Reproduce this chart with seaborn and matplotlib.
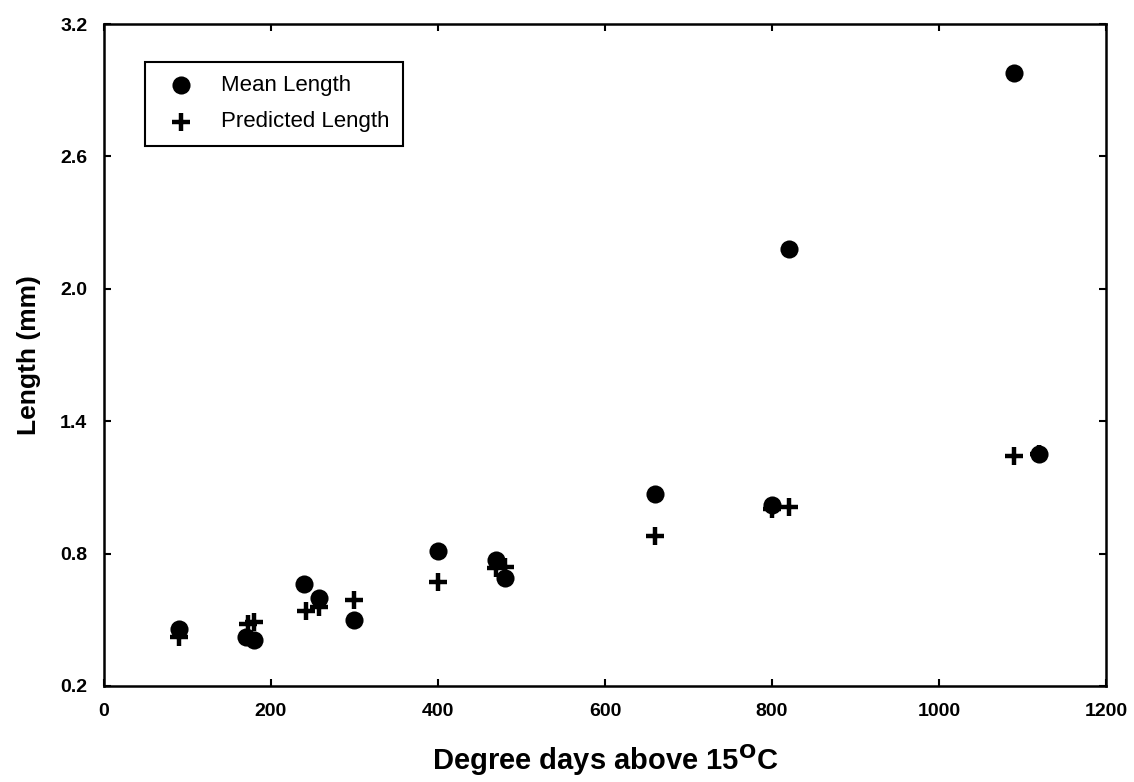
import seaborn as sns
import pandas as pd
import numpy as np
import matplotlib.pyplot as plt

# data
mean_dd = [90, 170, 180, 240, 258, 300, 400, 470, 480, 660, 800, 820, 1090, 1120]
mean_len = [0.46, 0.42, 0.41, 0.66, 0.60, 0.50, 0.81, 0.77, 0.69, 1.07, 1.02, 2.18, 2.98, 1.25]
pred_dd = [90, 173, 180, 242, 258, 300, 400, 470, 480, 660, 800, 820, 1090, 1120]
pred_len = [0.42, 0.48, 0.49, 0.54, 0.56, 0.59, 0.67, 0.735, 0.74, 0.88, 1.00, 1.01, 1.24, 1.25]

sns.set_style('ticks')
plt.rcParams['font.family'] = ['Liberation Sans', 'DejaVu Sans']
plt.rcParams['text.color'] = 'black'
plt.rcParams['axes.labelcolor'] = 'black'
plt.rcParams['xtick.color'] = 'black'
plt.rcParams['ytick.color'] = 'black'

mean_df = pd.DataFrame({'dd': mean_dd, 'len': mean_len})
pred_df = pd.DataFrame({'dd': pred_dd, 'len': pred_len})

fig = plt.figure(figsize=(11.34, 7.82), dpi=100)
ax = fig.add_axes([0.0917, 0.1228, 0.8836, 0.8465])

sns.scatterplot(x='dd', y='len', data=mean_df, ax=ax, color='black', marker='o',
                s=170, edgecolor='black', linewidth=0, label='Mean Length', zorder=3)
sns.scatterplot(x='dd', y='len', data=pred_df, ax=ax, color='black', marker='+',
                s=150, linewidth=3.2, label='Predicted Length', zorder=4)

ax.set_xlim(0, 1200)
ax.set_ylim(0.2, 3.2)
ax.set_xticks(np.arange(0, 1201, 200))
ax.set_yticks([0.2, 0.8, 1.4, 2.0, 2.6, 3.2])
ax.set_yticklabels(['0.2', '0.8', '1.4', '2.0', '2.6', '3.2'])
ax.tick_params(direction='in', top=True, right=True, labelsize=14, length=5, width=1.5, pad=12)
for lab in ax.get_xticklabels() + ax.get_yticklabels():
    lab.set_fontweight('bold')
for sp in ax.spines.values():
    sp.set_linewidth(1.8)
    sp.set_color('black')
    sp.set_visible(True)

ax.set_xlabel('Degree days above 15$^{\\mathbf{O}}$C', fontsize=21, fontweight='bold', labelpad=16)
ax.set_ylabel('Length (mm)', fontsize=19, fontweight='bold', labelpad=14)

leg = ax.legend(loc='upper left', bbox_to_anchor=(0.03, 0.96), fontsize=16, frameon=True,
                fancybox=False, edgecolor='black', borderpad=0.6, handletextpad=0.8,
                labelspacing=0.7)
leg.get_frame().set_linewidth(1.5)
leg.get_frame().set_alpha(1)

fig.savefig('out.png', dpi=100)
